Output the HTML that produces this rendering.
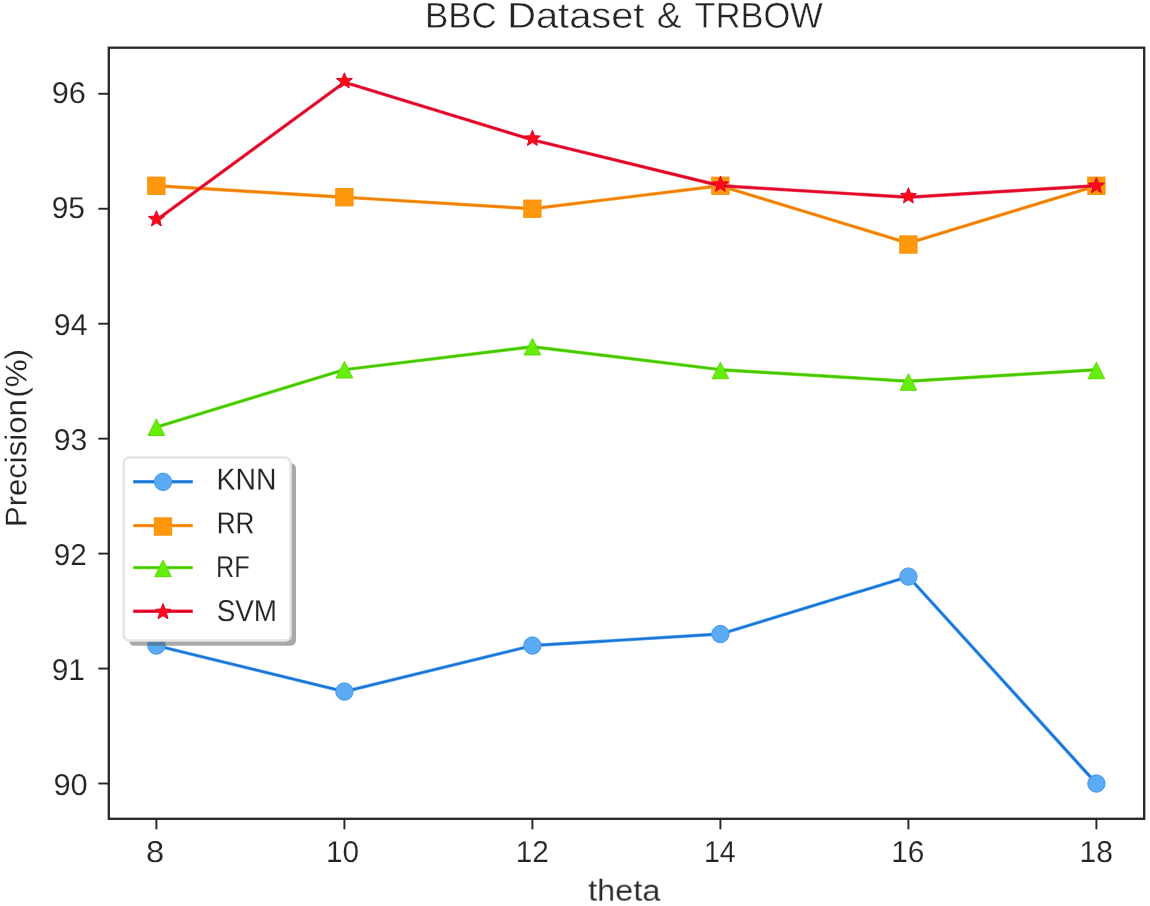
<!DOCTYPE html>
<html><head><meta charset="utf-8"><title>BBC Dataset &amp; TRBOW</title>
<style>
html,body{margin:0;padding:0;background:#fff;}
body{width:1150px;height:906px;overflow:hidden;}
svg{display:block;}
text{font-family:"Liberation Sans",sans-serif;fill:#242424;stroke:#ffffff;}
</style></head><body>
<svg width="1150" height="906" viewBox="0 0 1150 906">
<defs><filter id="sb" x="-10%" y="-10%" width="120%" height="120%"><feGaussianBlur stdDeviation="0.7"/></filter></defs>
<rect x="0" y="0" width="1150" height="906" fill="#ffffff"/>
<g opacity="0.999">
<polyline points="156.40,645.56 344.40,691.54 532.40,645.56 720.40,634.07 908.40,576.59 1096.40,783.50" fill="none" stroke="#4fa4f2" stroke-width="3.4" stroke-linejoin="round" stroke-linecap="butt"/>
<polyline points="156.40,645.56 344.40,691.54 532.40,645.56 720.40,634.07 908.40,576.59 1096.40,783.50" fill="none" stroke="#1a72d2" stroke-width="1.9" stroke-linejoin="round" stroke-linecap="butt"/>
<circle cx="156.40" cy="645.56" r="8.70" fill="#5aaaf4" stroke="#4496ea" stroke-width="1.0"/>
<circle cx="344.40" cy="691.54" r="8.70" fill="#5aaaf4" stroke="#4496ea" stroke-width="1.0"/>
<circle cx="532.40" cy="645.56" r="8.70" fill="#5aaaf4" stroke="#4496ea" stroke-width="1.0"/>
<circle cx="720.40" cy="634.07" r="8.70" fill="#5aaaf4" stroke="#4496ea" stroke-width="1.0"/>
<circle cx="908.40" cy="576.59" r="8.70" fill="#5aaaf4" stroke="#4496ea" stroke-width="1.0"/>
<circle cx="1096.40" cy="783.50" r="8.70" fill="#5aaaf4" stroke="#4496ea" stroke-width="1.0"/>
<polyline points="156.40,185.76 344.40,197.26 532.40,208.75 720.40,185.76 908.40,243.23 1096.40,185.76" fill="none" stroke="#ffa02c" stroke-width="3.4" stroke-linejoin="round" stroke-linecap="butt"/>
<polyline points="156.40,185.76 344.40,197.26 532.40,208.75 720.40,185.76 908.40,243.23 1096.40,185.76" fill="none" stroke="#ee7e00" stroke-width="1.9" stroke-linejoin="round" stroke-linecap="butt"/>
<rect x="147.75" y="177.11" width="17.30" height="17.30" fill="#ff980c" stroke="#fa900c" stroke-width="1.0" stroke-linejoin="miter"/>
<rect x="335.75" y="188.61" width="17.30" height="17.30" fill="#ff980c" stroke="#fa900c" stroke-width="1.0" stroke-linejoin="miter"/>
<rect x="523.75" y="200.10" width="17.30" height="17.30" fill="#ff980c" stroke="#fa900c" stroke-width="1.0" stroke-linejoin="miter"/>
<rect x="711.75" y="177.11" width="17.30" height="17.30" fill="#ff980c" stroke="#fa900c" stroke-width="1.0" stroke-linejoin="miter"/>
<rect x="899.75" y="235.88" width="17.30" height="17.30" fill="#ff980c" stroke="#fa900c" stroke-width="1.0" stroke-linejoin="miter"/>
<rect x="1087.75" y="177.11" width="17.30" height="17.30" fill="#ff980c" stroke="#fa900c" stroke-width="1.0" stroke-linejoin="miter"/>
<polyline points="156.40,427.16 344.40,369.68 532.40,346.69 720.40,369.68 908.40,381.18 1096.40,369.68" fill="none" stroke="#6ce61e" stroke-width="3.4" stroke-linejoin="round" stroke-linecap="butt"/>
<polyline points="156.40,427.16 344.40,369.68 532.40,346.69 720.40,369.68 908.40,381.18 1096.40,369.68" fill="none" stroke="#46c200" stroke-width="1.9" stroke-linejoin="round" stroke-linecap="butt"/>
<polygon points="156.40,418.86 148.10,435.46 164.70,435.46" fill="#64ee0a" stroke="#58dc06" stroke-width="1.0" stroke-linejoin="miter"/>
<polygon points="344.40,361.38 336.10,377.98 352.70,377.98" fill="#64ee0a" stroke="#58dc06" stroke-width="1.0" stroke-linejoin="miter"/>
<polygon points="532.40,338.39 524.10,354.99 540.70,354.99" fill="#64ee0a" stroke="#58dc06" stroke-width="1.0" stroke-linejoin="miter"/>
<polygon points="720.40,362.18 712.10,378.78 728.70,378.78" fill="#64ee0a" stroke="#58dc06" stroke-width="1.0" stroke-linejoin="miter"/>
<polygon points="908.40,373.68 900.10,390.28 916.70,390.28" fill="#64ee0a" stroke="#58dc06" stroke-width="1.0" stroke-linejoin="miter"/>
<polygon points="1096.40,362.18 1088.10,378.78 1104.70,378.78" fill="#64ee0a" stroke="#58dc06" stroke-width="1.0" stroke-linejoin="miter"/>
<polyline points="156.40,220.24 344.40,82.31 532.40,139.78 720.40,185.76 908.40,197.26 1096.40,185.76" fill="none" stroke="#f63a52" stroke-width="3.4" stroke-linejoin="round" stroke-linecap="butt"/>
<polyline points="156.40,220.24 344.40,82.31 532.40,139.78 720.40,185.76 908.40,197.26 1096.40,185.76" fill="none" stroke="#dc0026" stroke-width="1.9" stroke-linejoin="round" stroke-linecap="butt"/>
<polygon points="156.40,210.74 158.57,216.15 164.39,216.55 159.92,220.29 161.34,225.94 156.40,222.84 151.46,225.94 152.88,220.29 148.41,216.55 154.23,216.15" fill="#ff0a16" stroke="#de0428" stroke-width="1.0" stroke-linejoin="bevel"/>
<polygon points="344.40,72.81 346.57,78.21 352.39,78.61 347.92,82.35 349.34,88.00 344.40,84.90 339.46,88.00 340.88,82.35 336.41,78.61 342.23,78.21" fill="#ff0a16" stroke="#de0428" stroke-width="1.0" stroke-linejoin="bevel"/>
<polygon points="532.40,130.28 534.57,135.69 540.39,136.08 535.92,139.82 537.34,145.48 532.40,142.38 527.46,145.48 528.88,139.82 524.41,136.08 530.23,135.69" fill="#ff0a16" stroke="#de0428" stroke-width="1.0" stroke-linejoin="bevel"/>
<polygon points="720.40,176.26 722.57,181.67 728.39,182.06 723.92,185.80 725.34,191.46 720.40,188.36 715.46,191.46 716.88,185.80 712.41,182.06 718.23,181.67" fill="#ff0a16" stroke="#de0428" stroke-width="1.0" stroke-linejoin="bevel"/>
<polygon points="908.40,187.76 910.57,193.16 916.39,193.56 911.92,197.30 913.34,202.95 908.40,199.85 903.46,202.95 904.88,197.30 900.41,193.56 906.23,193.16" fill="#ff0a16" stroke="#de0428" stroke-width="1.0" stroke-linejoin="bevel"/>
<polygon points="1096.40,177.46 1098.57,182.87 1104.39,183.26 1099.92,187.00 1101.34,192.66 1096.40,189.56 1091.46,192.66 1092.88,187.00 1088.41,183.26 1094.23,182.87" fill="#ff0a16" stroke="#de0428" stroke-width="1.0" stroke-linejoin="bevel"/>
<line x1="156.40" y1="818.80" x2="156.40" y2="829.30" stroke="#262626" stroke-width="1.9"/>
<line x1="344.40" y1="818.80" x2="344.40" y2="829.30" stroke="#262626" stroke-width="1.9"/>
<line x1="532.40" y1="818.80" x2="532.40" y2="829.30" stroke="#262626" stroke-width="1.9"/>
<line x1="720.40" y1="818.80" x2="720.40" y2="829.30" stroke="#262626" stroke-width="1.9"/>
<line x1="908.40" y1="818.80" x2="908.40" y2="829.30" stroke="#262626" stroke-width="1.9"/>
<line x1="1096.40" y1="818.80" x2="1096.40" y2="829.30" stroke="#262626" stroke-width="1.9"/>
<line x1="108.80" y1="783.50" x2="98.30" y2="783.50" stroke="#262626" stroke-width="1.9"/>
<line x1="108.80" y1="668.55" x2="98.30" y2="668.55" stroke="#262626" stroke-width="1.9"/>
<line x1="108.80" y1="553.60" x2="98.30" y2="553.60" stroke="#262626" stroke-width="1.9"/>
<line x1="108.80" y1="438.65" x2="98.30" y2="438.65" stroke="#262626" stroke-width="1.9"/>
<line x1="108.80" y1="323.70" x2="98.30" y2="323.70" stroke="#262626" stroke-width="1.9"/>
<line x1="108.80" y1="208.75" x2="98.30" y2="208.75" stroke="#262626" stroke-width="1.9"/>
<line x1="108.80" y1="93.80" x2="98.30" y2="93.80" stroke="#262626" stroke-width="1.9"/>
<rect x="108.8" y="47.7" width="1035.40" height="771.10" fill="none" stroke="#262626" stroke-width="2.3"/>
<text transform="translate(145.90,861.90) rotate(0.05) scale(1.0877,1)" font-size="30.10" stroke-width="0.16">8</text>
<text transform="translate(325.95,861.90) rotate(0.05) scale(0.9883,1)" font-size="30.10" stroke-width="0.16">10</text>
<text transform="translate(515.65,861.90) rotate(0.05) scale(0.9894,1)" font-size="30.10" stroke-width="0.16">12</text>
<text transform="translate(703.95,861.90) rotate(0.05) scale(0.9457,1)" font-size="30.10" stroke-width="0.16">14</text>
<text transform="translate(891.24,861.90) rotate(0.05) scale(0.9932,1)" font-size="30.10" stroke-width="0.16">16</text>
<text transform="translate(1079.43,861.90) rotate(0.05) scale(0.9994,1)" font-size="30.10" stroke-width="0.16">18</text>
<text transform="translate(53.47,794.90) rotate(0.05) scale(1.0249,1)" font-size="30.10" stroke-width="0.16">90</text>
<text transform="translate(51.71,680.00) rotate(0.05) scale(0.9955,1)" font-size="30.10" stroke-width="0.16">91</text>
<text transform="translate(53.73,565.00) rotate(0.05) scale(0.9871,1)" font-size="30.10" stroke-width="0.16">92</text>
<text transform="translate(53.70,449.90) rotate(0.05) scale(1.0038,1)" font-size="30.10" stroke-width="0.16">93</text>
<text transform="translate(53.80,335.00) rotate(0.05) scale(1.0056,1)" font-size="30.10" stroke-width="0.16">94</text>
<text transform="translate(51.71,218.00) rotate(0.05) scale(0.9954,1)" font-size="30.10" stroke-width="0.16">95</text>
<text transform="translate(51.68,103.10) rotate(0.05) scale(1.0200,1)" font-size="30.10" stroke-width="0.16">96</text>
<text transform="translate(424.92,27.70) rotate(0.05) scale(0.9682,1)" font-size="36.00" stroke-width="0.45">BBC</text>
<text transform="translate(507.21,27.70) rotate(0.05) scale(1.1059,1)" font-size="36.00" stroke-width="0.45">Dataset</text>
<text transform="translate(656.76,27.70) rotate(0.05) scale(1.0346,1)" font-size="36.00" stroke-width="0.45">&amp;</text>
<text transform="translate(694.60,27.70) rotate(0.05) scale(0.9567,1)" font-size="36.00" stroke-width="0.45">TRBOW</text>
<text transform="translate(588.23,900.70) rotate(0.05) scale(1.0778,1)" font-size="30.10" stroke-width="0.16">theta</text>
<text transform="translate(26.40,527.03) rotate(-90.05) scale(1.0326,1)" font-size="30.10" stroke-width="0.16">Precision</text>
<text transform="translate(26.40,397.72) rotate(-90.05) scale(1.0414,1)" font-size="30.10" stroke-width="0.16">(%)</text>
<rect x="129.0" y="463.0" width="167.00000000000003" height="182.79999999999995" rx="5.5" ry="5.5" fill="#4a5654" fill-opacity="0.5" filter="url(#sb)"/>
<rect x="123.6" y="457.6" width="167.00000000000003" height="182.79999999999995" rx="5.5" ry="5.5" fill="#ffffff" stroke="#e5e5e5" stroke-width="2.5"/>
<line x1="133.2" y1="481.8" x2="192.8" y2="481.8" stroke="#4fa4f2" stroke-width="3.4"/>
<line x1="133.6" y1="481.8" x2="192.4" y2="481.8" stroke="#1a72d2" stroke-width="1.9"/>
<circle cx="163.00" cy="481.80" r="8.70" fill="#5aaaf4" stroke="#4496ea" stroke-width="1.0"/>
<text transform="translate(216.49,489.40) rotate(0.05) scale(0.9426,1)" font-size="30.10" stroke-width="0.16">KNN</text>
<line x1="133.2" y1="525.6" x2="192.8" y2="525.6" stroke="#ffa02c" stroke-width="3.4"/>
<line x1="133.6" y1="525.6" x2="192.4" y2="525.6" stroke="#ee7e00" stroke-width="1.9"/>
<rect x="154.35" y="517.85" width="17.30" height="17.30" fill="#ff980c" stroke="#fa900c" stroke-width="1.0" stroke-linejoin="miter"/>
<text transform="translate(216.68,533.20) rotate(0.05) scale(0.8681,1)" font-size="30.10" stroke-width="0.16">RR</text>
<line x1="133.2" y1="567.6" x2="192.8" y2="567.6" stroke="#6ce61e" stroke-width="3.4"/>
<line x1="133.6" y1="567.6" x2="192.4" y2="567.6" stroke="#46c200" stroke-width="1.9"/>
<polygon points="163.00,560.10 154.70,576.70 171.30,576.70" fill="#64ee0a" stroke="#58dc06" stroke-width="1.0" stroke-linejoin="miter"/>
<text transform="translate(216.05,577.10) rotate(0.05) scale(0.8384,1)" font-size="30.10" stroke-width="0.16">RF</text>
<line x1="133.2" y1="611.2" x2="192.8" y2="611.2" stroke="#f63a52" stroke-width="3.4"/>
<line x1="133.6" y1="611.2" x2="192.4" y2="611.2" stroke="#dc0026" stroke-width="1.9"/>
<polygon points="163.00,603.60 165.17,609.01 170.99,609.40 166.52,613.14 167.94,618.80 163.00,615.70 158.06,618.80 159.48,613.14 155.01,609.40 160.83,609.01" fill="#ff0a16" stroke="#de0428" stroke-width="1.0" stroke-linejoin="bevel"/>
<text transform="translate(216.63,620.90) rotate(0.05) scale(0.9265,1)" font-size="30.10" stroke-width="0.16">SVM</text>
</g></svg></body></html>
